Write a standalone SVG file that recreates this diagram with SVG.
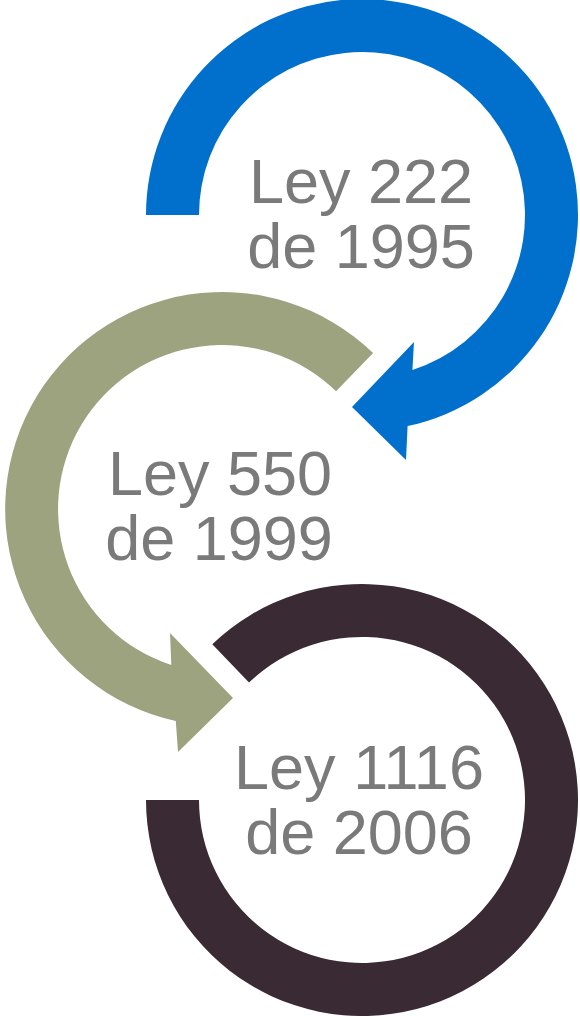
<svg xmlns="http://www.w3.org/2000/svg" width="580" height="1016" viewBox="0 0 580 1016">
  <style>
    .label { font-family: "Liberation Sans", Arial, sans-serif; font-size: 63px; fill: #7a7a7a; text-anchor: middle; }
    .blue { fill: #0070cc; }
    .green { fill: #9ca37e; }
    .dark { fill: #3a2a33; }
  </style>
  <rect width="580" height="1016" fill="#ffffff"/>
  <!-- curved arrows linking the laws -->
  <g id="connectors">
    <path class="blue" d="M146,215 A216,216 0 1 1 407.6,426.1 L406,460 L352,407 L414,342 L412.4,370 A163,163 0 1 0 199,215 Z"/>
    <path class="green" d="M373.1,353.1 A217,217 0 1 0 175.8,721 L178,752 L233,698 L170,633 L171.3,665 A164,164 0 1 1 336.1,391.2 Z"/>
    <path class="dark" d="M212.3,644.3 A216,216 0 1 1 146,800 L199,800 A163,163 0 1 0 249,682.5 Z"/>
  </g>
  <g id="ley-222">
    <text class="label" x="361" y="203">Ley 222</text>
    <text class="label" x="361" y="268">de 1995</text>
  </g>
  <g id="ley-550">
    <text class="label" x="220" y="495">Ley 550</text>
    <text class="label" x="219" y="560">de 1999</text>
  </g>
  <g id="ley-1116">
    <text class="label" x="359" y="789">Ley 1116</text>
    <text class="label" x="359" y="854">de 2006</text>
  </g>
</svg>
